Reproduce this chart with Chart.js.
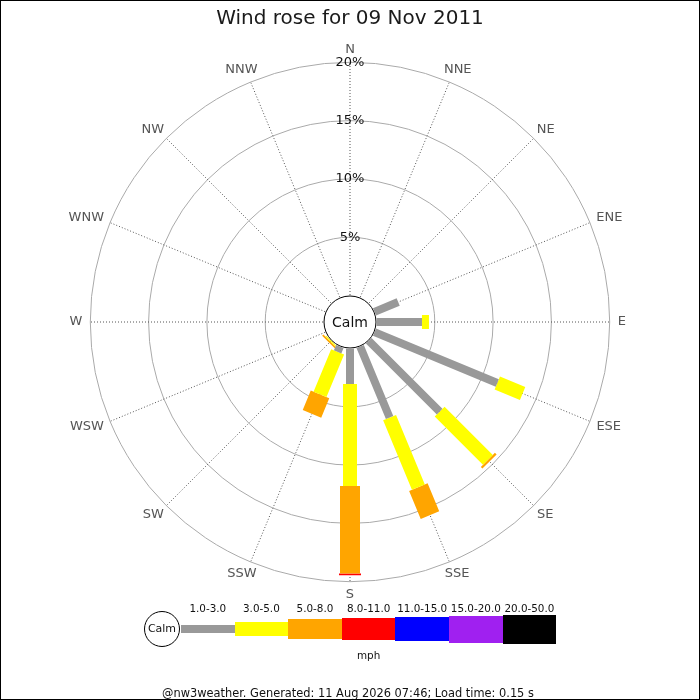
<!DOCTYPE html>
<html>
<head>
<meta charset="utf-8">
<title>Wind rose</title>
<script src="https://cdn.jsdelivr.net/npm/chart.js@4.4.0/dist/chart.umd.min.js"></script>
<style>
    html, body { margin: 0; padding: 0; background: #fff; }
    #wrap { position: relative; width: 700px; height: 700px; overflow: hidden; font-family: "DejaVu Sans", sans-serif; }
    #wrap canvas { position: absolute; left: 0; top: 0; }
    #frame { position: absolute; left: 0; top: 0; width: 700px; height: 700px; border: 1px solid #000; box-sizing: border-box; pointer-events: none; }
    #title { position: absolute; left: 0; top: 5px; width: 700px; text-align: center; font-size: 20px; color: #1a1a1a; }
    .txt { position: absolute; font-size: 10.4px; color: #111; white-space: nowrap; transform: translate(-50%, -50%); }
    .foot { font-size: 11.4px; }
    .key { position: absolute; }
    #calmKey { position: absolute; left: 144px; top: 611px; width: 36px; height: 36px; border: 1px solid #000; border-radius: 50%; box-sizing: border-box; font-size: 11px; line-height: 34px; text-align: center; color: #111; }
</style>
</head>
<body>
<div id="wrap">
    <canvas id="rose" width="700" height="700"></canvas>
    <div id="title">Wind rose for 09 Nov 2011</div>
    <div id="legend"></div>
    <div class="txt foot" style="left:348px; top:693px;">@nw3weather. Generated: 11 Aug 2026 07:46; Load time: 0.15 s</div>
    <div id="frame"></div>
</div>
<script>
// compass points, clockwise from north
const directions = ['N', 'NNE', 'NE', 'ENE', 'E', 'ESE', 'SE', 'SSE', 'S', 'SSW', 'SW', 'WSW', 'W', 'WNW', 'NW', 'NNW'];
const speedBands = ['1.0-3.0', '3.0-5.0', '5.0-8.0', '8.0-11.0', '11.0-15.0', '15.0-20.0', '20.0-50.0'];
const speedUnit = 'mph';
const calmLabel = 'Calm';

// % of the day in each speed band, per direction
const band1to3 = [0, 0, 0, 2.2, 3.9, 11.4, 8.6, 6.6, 3.05, 0.5, 0, 0, 0, 0, 0, 0];
const band3to5 = [0, 0, 0, 0, 0.6, 2.35, 5.85, 6.45, 8.75, 3.95, 0.1, 0, 0, 0, 0, 0];
const band5to8 = [0, 0, 0, 0, 0, 0, 0.2, 2.6, 7.5, 1.8, 0.15, 0, 0, 0, 0, 0];
const band8to11 = [0, 0, 0, 0, 0, 0, 0, 0, 0.15, 0, 0, 0, 0, 0, 0, 0];
const band11to15 = [0, 0, 0, 0, 0, 0, 0, 0, 0, 0, 0, 0, 0, 0, 0, 0];
const band15to20 = [0, 0, 0, 0, 0, 0, 0, 0, 0, 0, 0, 0, 0, 0, 0, 0];
const band20to50 = [0, 0, 0, 0, 0, 0, 0, 0, 0, 0, 0, 0, 0, 0, 0, 0];

// ring ticks (%)
const ringTicks = [5, 10, 15, 20];

// styles
const bandColors = ['#999999', '#ffff00', '#ffa500', '#ff0000', '#0000ff', '#a020f0', '#000000'];
const bandWidths = [8, 14, 20, 22, 24, 27, 29];

const PX_PER_PCT = 11.66;            // ring spacing / 5
const CALM_R = 26;                   // px, calm circle
const OFFSET = 26.5 / PX_PER_PCT;    // 0% sits on the calm circle
const RANGE = 322 / PX_PER_PCT;      // half of the square plot area
const LABEL_GAP = 8;                 // px past the outer ring

const bandValues = [band1to3, band3to5, band5to8, band8to11, band11to15, band15to20, band20to50];

function toXY(r, dirIndex) {
    const a = dirIndex * 22.5 * Math.PI / 180;
    return { x: r * Math.sin(a), y: r * Math.cos(a) };
}

// stack bands outwards along each direction
const totals = directions.map(() => 0);
const datasets = bandValues.map((values, b) => {
    const points = [];
    values.forEach((v, d) => {
        if (v <= 0) return;
        const r0 = OFFSET + totals[d];
        const r1 = r0 + v;
        points.push(toXY(r0, d), toXY(r1, d), { x: null, y: null });
        totals[d] += v;
    });
    return {
        label: speedBands[b],
        data: points,
        showLine: true,
        spanGaps: false,
        borderColor: bandColors[b],
        backgroundColor: bandColors[b],
        borderWidth: bandWidths[b],
        borderCapStyle: 'butt',
        pointRadius: 0,
        pointHoverRadius: 0,
        tension: 0,
        clip: false
    };
});

// rings, spokes, compass labels and calm circle
const roseGrid = {
    id: 'roseGrid',
    beforeDatasetsDraw(chart) {
        const { ctx, scales: { x, y } } = chart;
        const cx = x.getPixelForValue(0);
        const cy = y.getPixelForValue(0);
        const px = v => x.getPixelForValue(v) - cx;
        ctx.save();

        ctx.strokeStyle = '#aaaaaa';
        ctx.lineWidth = 1;
        ringTicks.forEach(t => {
            ctx.beginPath();
            ctx.arc(cx, cy, px(OFFSET + t), 0, 2 * Math.PI);
            ctx.stroke();
        });

        const rOut = px(OFFSET + ringTicks[ringTicks.length - 1]);
        ctx.setLineDash([1, 2]);
        ctx.strokeStyle = '#555555';
        directions.forEach((d, i) => {
            const a = i * 22.5 * Math.PI / 180;
            ctx.beginPath();
            ctx.moveTo(cx, cy);
            ctx.lineTo(cx + rOut * Math.sin(a), cy - rOut * Math.cos(a));
            ctx.stroke();
        });
        ctx.setLineDash([]);

        // compass labels pushed outwards by half their size
        ctx.font = '13px "DejaVu Sans", sans-serif';
        ctx.textAlign = 'center';
        ctx.textBaseline = 'middle';
        ctx.fillStyle = '#555555';
        const rLab = rOut + LABEL_GAP;
        directions.forEach((d, i) => {
            const a = i * 22.5 * Math.PI / 180;
            const s = Math.sin(a), c = Math.cos(a);
            const w = ctx.measureText(d).width;
            const tx = cx + rLab * s + (w / 2) * s;
            const ty = cy - rLab * c - 5 * c;
            ctx.fillText(d, tx, ty);
        });

        ctx.fillStyle = '#111111';
        ringTicks.forEach(t => {
            ctx.fillText(t + '%', cx, cy - px(OFFSET + t));
        });

        ctx.beginPath();
        ctx.arc(cx, cy, CALM_R, 0, 2 * Math.PI);
        ctx.fillStyle = '#ffffff';
        ctx.fill();
        ctx.strokeStyle = '#000000';
        ctx.stroke();
        ctx.fillStyle = '#111111';
        ctx.font = '14px "DejaVu Sans", sans-serif';
        ctx.fillText(calmLabel, cx, cy + 1);

        ctx.restore();
    }
};

new Chart(document.getElementById('rose').getContext('2d'), {
    type: 'scatter',
    data: { datasets: datasets },
    options: {
        responsive: false,
        animation: false,
        layout: { padding: { left: 28, right: 28, top: 0, bottom: 56 } },
        scales: {
            x: { type: 'linear', min: -RANGE, max: RANGE, display: false },
            y: { type: 'linear', min: -RANGE, max: RANGE, display: false }
        },
        plugins: {
            legend: { display: false },
            tooltip: { enabled: false },
            title: { display: false }
        }
    },
    plugins: [roseGrid]
});

// speed key under the rose
const legend = document.getElementById('legend');
const KEY_LEFT = 181, KEY_STEP = 53.6, KEY_MID = 629;
legend.innerHTML = '<div id="calmKey">' + calmLabel + '</div>';
speedBands.forEach((band, b) => {
    const bar = document.createElement('div');
    bar.className = 'key';
    bar.style.left = (KEY_LEFT + b * KEY_STEP) + 'px';
    bar.style.width = KEY_STEP + 'px';
    bar.style.top = (KEY_MID - bandWidths[b] / 2) + 'px';
    bar.style.height = bandWidths[b] + 'px';
    bar.style.background = bandColors[b];
    legend.appendChild(bar);

    const lab = document.createElement('div');
    lab.className = 'txt';
    lab.style.left = (KEY_LEFT + (b + 0.5) * KEY_STEP) + 'px';
    lab.style.top = '608px';
    lab.textContent = band;
    legend.appendChild(lab);
});
const unit = document.createElement('div');
unit.className = 'txt';
unit.style.left = (KEY_LEFT + 3.5 * KEY_STEP) + 'px';
unit.style.top = '655px';
unit.textContent = speedUnit;
legend.appendChild(unit);
</script>
</body>
</html>
